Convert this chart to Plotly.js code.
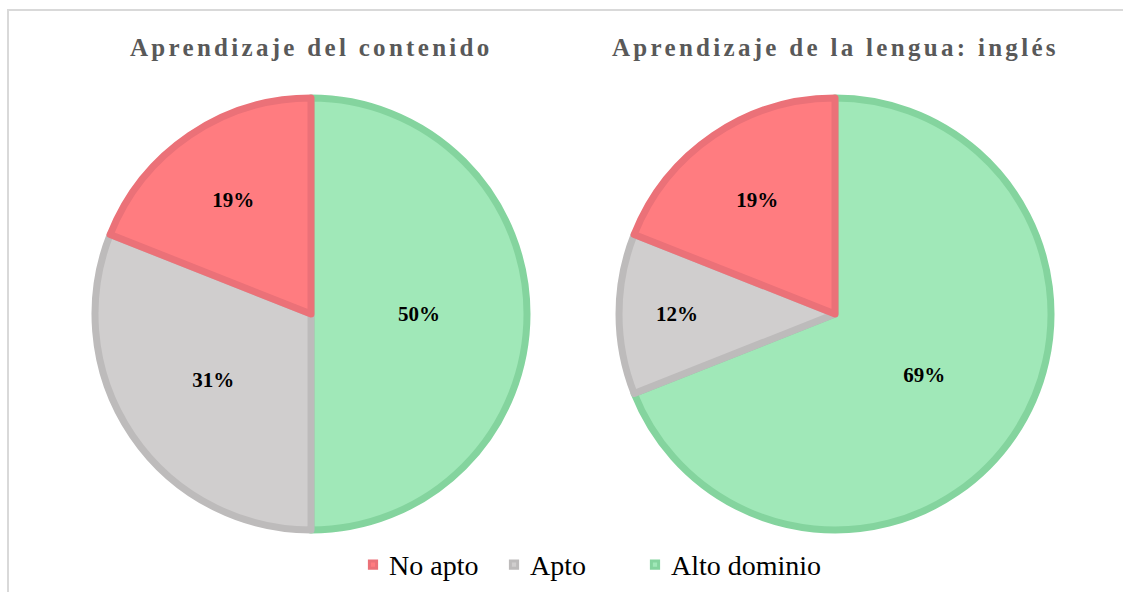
<!DOCTYPE html>
<html>
<head>
<meta charset="utf-8">
<script src="https://cdn.plot.ly/plotly-3.0.1.min.js"></script>
<style>
  html, body { margin: 0; padding: 0; background: #fff; }
  #frame { position: absolute; left: 7px; top: 9px; width: 1116px; height: 583px;
           border-left: 2px solid #d9d9d9; border-top: 2px solid #d9d9d9; pointer-events: none; }
  #chart { width: 1123px; height: 592px; }
  .annotation-text { letter-spacing: 3.3px; }
  .legendpie { transform: translate(24px, 1px) scale(0.6); }
  .legend .scrollbox { clip-path: none !important; }
</style>
</head>
<body>
<div id="chart"></div>
<div id="frame"></div>
<script>
// Slices listed clockwise from 12 o'clock; legend shown reversed.
const categories = ["Alto dominio", "Apto", "No apto"];
const contenidoValues = [50, 31, 19];
const lenguaValues = [69, 12, 19];
const chartTitles = ["Aprendizaje del contenido", "Aprendizaje de la lengua: inglés"];

const fillColors = ["#A0E8B8", "#D0CECE", "#FF7C80"];
const lineColors = ["#84D49E", "#BDBBBB", "#EB7178"];
const serif = "Liberation Serif, Times New Roman, serif";

function pieTrace(values, domain, showlegend) {
  return {
    type: "pie",
    labels: categories,
    values: values,
    sort: false,
    direction: "clockwise",
    rotation: 0,
    domain: domain,
    marker: { colors: fillColors, line: { color: lineColors, width: 7 } },
    texttemplate: "%{value}%",
    textposition: "inside",
    insidetextorientation: "horizontal",
    textfont: { family: serif, size: 21, color: "#000", weight: "bold" },
    hoverinfo: "label+percent",
    showlegend: showlegend
  };
}

const W = 1123, H = 592;
const data = [
  pieTrace(contenidoValues, { x: [95 / W, 527 / W], y: [60 / H, 496 / H] }, true),
  pieTrace(lenguaValues, { x: [619 / W, 1051 / W], y: [60 / H, 496 / H] }, false)
];

const layout = {
  width: W, height: H,
  margin: { l: 0, r: 0, t: 0, b: 0 },
  paper_bgcolor: "#fff",
  showlegend: true,
  legend: {
    orientation: "h", x: 349 / W, xanchor: "left", y: 28 / H, yanchor: "middle",
    font: { family: serif, size: 28, color: "#000" },
    itemwidth: 30, traceorder: "reversed",
    entrywidth: 96, entrywidthmode: "pixels"
  },
  annotations: [
    { text: chartTitles[0], x: 311 / W, y: (H - 47) / H, xref: "paper", yref: "paper",
      xanchor: "center", yanchor: "middle", showarrow: false,
      font: { family: serif, size: 25, color: "#595959", weight: "bold" } },
    { text: chartTitles[1], x: 835 / W, y: (H - 47) / H, xref: "paper", yref: "paper",
      xanchor: "center", yanchor: "middle", showarrow: false,
      font: { family: serif, size: 25, color: "#595959", weight: "bold" } }
  ]
};

Plotly.newPlot("chart", data, layout, { displayModeBar: false, staticPlot: true });
</script>
</body>
</html>
